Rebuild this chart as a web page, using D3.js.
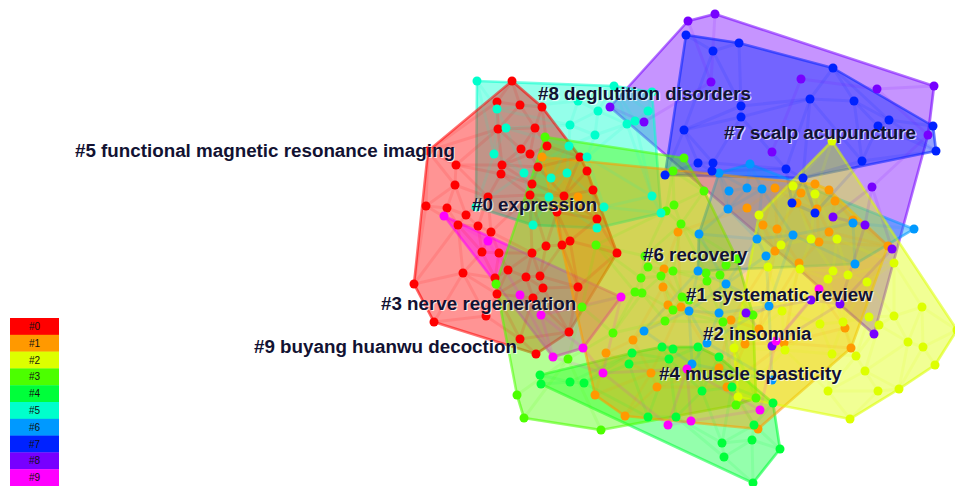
<!DOCTYPE html>
<html>
<head>
<meta charset="utf-8">
<script src="https://cdn.jsdelivr.net/npm/d3@7"></script>
<style>
  html, body { margin: 0; padding: 0; background: #ffffff; }
  svg { display: block; }
</style>
</head>
<body>
<svg id="chart" width="955" height="486"></svg>
<script>
// ---- Cluster identities -------------------------------------------------
const clusterIds = ["#0", "#1", "#2", "#3", "#4", "#5", "#6", "#7", "#8", "#9"];
const clusterLabels = [
  "expression", "systematic review", "insomnia", "nerve regeneration",
  "muscle spasticity", "functional magnetic resonance imaging", "recovery",
  "scalp acupuncture", "deglutition disorders", "buyang huanwu decoction"
];

// ---- Node layout (network layout coordinates) ----------------------------
// members: nodes inside the cluster's area; bridges: nodes of the cluster placed among other clusters
const members0 = [[512,81],[497,102],[520,105],[542,107],[498,129],[535,128],[547,146],[521,149],[530,154],[456,165],[502,165],[501,174],[538,167],[580,157],[587,171],[455,185],[532,184],[593,190],[530,195],[488,197],[564,196],[426,206],[447,208],[466,215],[557,212],[597,219],[458,225],[478,226],[491,232],[546,246],[562,245],[570,241],[482,252],[499,253],[532,253],[617,253],[463,273],[508,270],[526,277],[540,276],[543,288],[578,287],[495,278],[497,294],[533,298],[486,316],[414,284],[434,322],[520,339],[569,332],[536,354],[428,151]];
const bridges0 = [];

const members1 = [[542,157],[578,197],[775,188],[815,184],[829,190],[801,193],[835,201],[797,203],[817,209],[747,208],[853,220],[763,225],[777,229],[829,232],[819,242],[775,251],[799,263],[888,246],[678,232],[664,269],[663,287],[668,305],[681,307],[731,320],[759,329],[784,343],[745,344],[845,328],[851,348],[727,387],[719,368],[758,429],[633,340],[606,353],[651,373],[657,387],[595,395],[625,416]];
const bridges1 = [];

const members2 = [[832,141],[793,186],[815,194],[759,215],[781,245],[811,239],[837,239],[768,267],[800,269],[828,279],[833,271],[848,275],[894,263],[867,282],[922,307],[894,316],[869,317],[879,325],[843,322],[820,324],[782,311],[908,342],[923,347],[935,365],[856,356],[832,354],[785,350],[865,371],[828,391],[878,391],[899,389],[850,419],[738,397],[734,348],[957,330]];
const bridges2 = [];

const members3 = [[545,137],[684,158],[673,171],[704,191],[674,205],[666,211],[681,224],[596,245],[645,256],[648,267],[641,278],[661,276],[673,271],[635,292],[642,293],[682,297],[706,273],[720,275],[726,265],[737,259],[707,281],[689,300],[673,310],[665,321],[582,307],[613,333],[496,284],[568,359],[723,322],[753,315],[756,398],[736,405],[601,430],[524,418],[517,395]];
const bridges3 = [];

const members4 = [[540,375],[541,384],[570,382],[584,383],[632,353],[629,364],[662,347],[673,349],[669,359],[698,347],[719,357],[702,391],[732,387],[648,417],[676,417],[773,403],[754,425],[722,443],[752,440],[724,457],[753,483],[780,449]];
const bridges4 = [];

const members5 = [[477,81],[614,86],[652,92],[497,109],[506,128],[494,154],[524,173],[551,178],[567,173],[570,125],[578,101],[598,111],[595,135],[569,146],[587,157],[549,197],[533,225],[597,228],[604,207],[627,124],[635,121],[648,111],[652,196],[661,213],[476,207]];
const bridges5 = [];

const members6 = [[750,164],[719,173],[729,191],[747,188],[762,189],[728,209],[699,234],[757,239],[793,235],[766,256],[853,223],[855,264],[914,229],[698,271]];
const bridges6 = [[726,284],[769,306],[689,311],[719,313],[707,343],[692,364],[772,380],[644,331]];

const members7 = [[686,35],[739,43],[713,51],[833,68],[741,106],[741,117],[684,130],[810,99],[854,101],[889,120],[878,126],[933,126],[936,151],[698,163],[713,163],[712,171],[665,175],[786,169],[803,178],[862,161]];
const bridges7 = [[792,203],[815,213]];

const members8 = [[688,21],[715,14],[711,82],[801,79],[877,89],[934,86],[928,135],[772,152],[872,187],[610,107],[644,122],[833,217],[865,225],[892,249],[874,334]];
const bridges8 = [[746,313],[772,346],[811,300],[840,304]];

const members9 = [[444,216],[488,241],[520,295],[541,315],[553,357],[583,348],[621,297]];
const bridges9 = [[603,373],[668,425],[691,421],[687,369],[760,410],[776,341],[819,289]];

const memberSets = [members0, members1, members2, members3, members4, members5, members6, members7, members8, members9];
const bridgeSets = [bridges0, bridges1, bridges2, bridges3, bridges4, bridges5, bridges6, bridges7, bridges8, bridges9];

// ---- Styling --------------------------------------------------------------
const palette = ["#ff0000", "#ff9900", "#ddff00", "#4cff00", "#00ff3a",
                 "#00ffcc", "#0099ff", "#0022ff", "#7700ff", "#ff00ff"];
// hull painting order (back to front)
const drawOrder = [8, 7, 5, 0, 9, 6, 4, 3, 1, 2];
// label anchors: left x, baseline y (layout coordinates)
const labelLayout = [
  [472, 211], [686, 301], [703, 340], [381, 310], [659, 380],
  [75, 157], [643, 261], [724, 139], [538, 100], [254, 353]
];

// ---- Scales ---------------------------------------------------------------
const W = 955, H = 486;
const x = d3.scaleLinear().domain([0, 955]).range([0, W]);
const y = d3.scaleLinear().domain([0, 486]).range([0, H]);
const color = d3.scaleOrdinal().domain(clusterIds).range(palette);

const clusters = clusterIds.map((id, i) => ({
  id, index: i, label: clusterLabels[i],
  members: memberSets[i], bridges: bridgeSets[i]
}));

const svg = d3.select("#chart");
const gHull = svg.append("g");
const gLink = svg.append("g");
const gNode = svg.append("g");
const gLabel = svg.append("g");
const gLegend = svg.append("g");

// ---- Cluster areas (convex hulls of member nodes) -------------------------
const lineGen = d3.line().curve(d3.curveLinearClosed);
drawOrder.forEach(ci => {
  const c = clusters[ci];
  const pts = c.members.map(p => [x(p[0]), y(p[1])]);
  const hull = d3.polygonHull(pts);
  if (!hull) return;
  gHull.append("path")
    .attr("d", lineGen(hull))
    .attr("fill", color(c.id))
    .attr("fill-opacity", 0.42)
    .attr("stroke", color(c.id))
    .attr("stroke-opacity", 0.55)
    .attr("stroke-width", 2.6)
    .attr("stroke-linejoin", "round");
});

// ---- Co-citation links (Delaunay neighbours within a cluster) -------------
clusters.forEach(c => {
  const pts = c.members.concat(c.bridges).map(p => [x(p[0]), y(p[1])]);
  if (pts.length < 3) return;
  const del = d3.Delaunay.from(pts);
  const seen = new Set();
  const t = del.triangles;
  for (let k = 0; k < t.length; k += 3) {
    [[t[k], t[k+1]], [t[k+1], t[k+2]], [t[k+2], t[k]]].forEach(([a, b]) => {
      const key = a < b ? a + "-" + b : b + "-" + a;
      if (seen.has(key)) return;
      seen.add(key);
      const dx = pts[a][0] - pts[b][0], dy = pts[a][1] - pts[b][1];
      if (Math.hypot(dx, dy) > 85) return;
      gLink.append("line")
        .attr("x1", pts[a][0]).attr("y1", pts[a][1])
        .attr("x2", pts[b][0]).attr("y2", pts[b][1])
        .attr("stroke", color(c.id))
        .attr("stroke-opacity", 0.11)
        .attr("stroke-width", 3)
        .attr("stroke-linecap", "round");
    });
  }
});

// ---- Nodes ----------------------------------------------------------------
const allNodes = [];
clusters.forEach(c => {
  c.members.concat(c.bridges).forEach(p => allNodes.push({ id: c.id, p }));
});
gNode.selectAll("circle").data(allNodes).join("circle")
  .attr("cx", d => x(d.p[0]))
  .attr("cy", d => y(d.p[1]))
  .attr("r", 4.5)
  .attr("fill", d => color(d.id));

// ---- Cluster labels -------------------------------------------------------
const labelFont = "bold 18.8px 'Liberation Sans', Arial, Helvetica, sans-serif";
clusters.forEach(c => {
  const [lx, ly] = labelLayout[c.index];
  const txt = c.id + " " + c.label;
  gLabel.append("text")
    .attr("x", x(lx) + 1.2).attr("y", y(ly) + 1.2)
    .style("font", labelFont)
    .attr("fill", "#ffffff").attr("fill-opacity", 0.75)
    .text(txt);
  gLabel.append("text")
    .attr("x", x(lx)).attr("y", y(ly))
    .style("font", labelFont)
    .attr("fill", "#121232")
    .text(txt);
});

// ---- Legend ---------------------------------------------------------------
const band = d3.scaleBand().domain(clusterIds).range([318, 318 + 16.8 * 10]).padding(0);
gLegend.selectAll("rect").data(clusterIds).join("rect")
  .attr("x", 10).attr("y", d => band(d))
  .attr("width", 49).attr("height", band.bandwidth() + 0.3)
  .attr("fill", d => color(d));
gLegend.selectAll("text").data(clusterIds).join("text")
  .attr("x", 34.5).attr("y", d => band(d) + band.bandwidth() / 2 + 3.5)
  .attr("text-anchor", "middle")
  .style("font", "10px 'Liberation Sans', Arial, sans-serif")
  .attr("fill", "#111111")
  .text(d => d);
</script>
</body>
</html>
